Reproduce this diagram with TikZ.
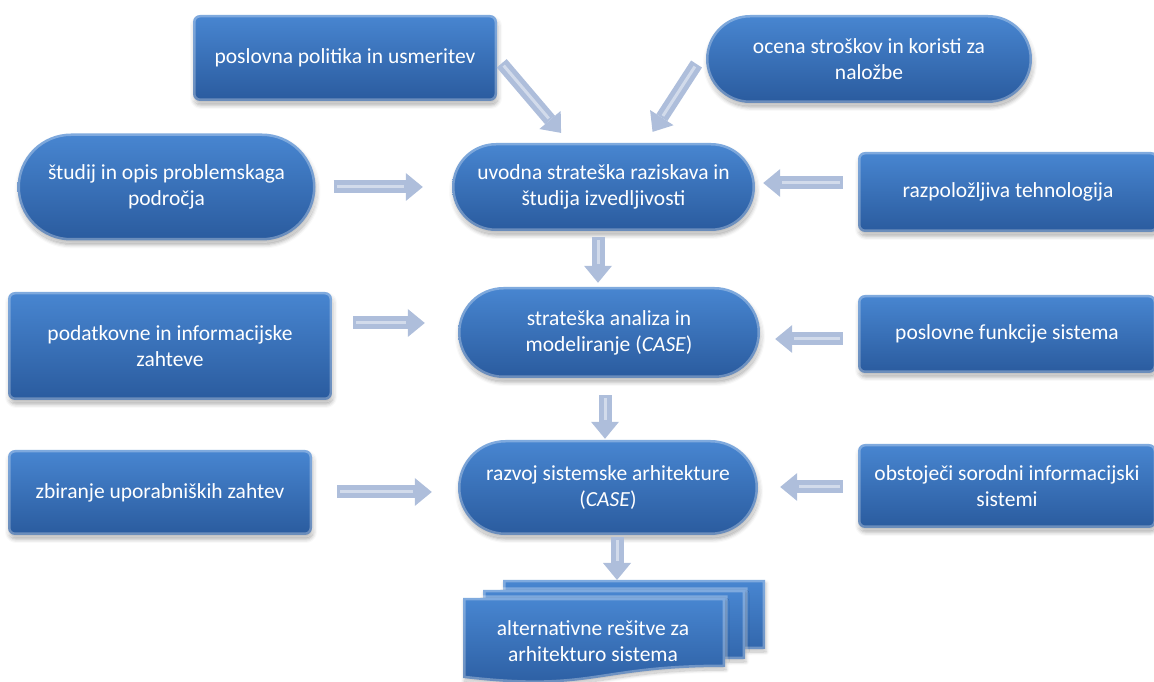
\documentclass[tikz,border=0pt]{standalone}
\usepackage{fontspec}
\setmainfont{Carlito}
\usetikzlibrary{shapes.misc,shadows.blur,arrows.meta}

\definecolor{boxtop}{HTML}{4886D1}
\definecolor{boxbot}{HTML}{2A5B9E}
\definecolor{arrowc}{HTML}{AEBEDB}

\tikzset{
  boxbase/.style={text=white, font=\fontsize{21.5}{26}\selectfont, align=center,
    inner sep=0pt, top color=boxtop, bottom color=boxbot,
    blur shadow={shadow xshift=1pt, shadow yshift=-4pt, shadow blur radius=4pt, shadow opacity=35},
    postaction={draw=white, draw opacity=.3, line width=5pt}},
  rbox/.style={boxbase, rectangle, rounded corners=7pt},
  sbox/.style={boxbase, rounded rectangle},
  docshape/.style={top color=boxtop, bottom color=boxbot,
    blur shadow={shadow xshift=1pt, shadow yshift=-3pt, shadow blur radius=3pt, shadow opacity=30},
    postaction={draw=white, draw opacity=.3, line width=5pt}},
  conn/.style 2 args={draw=arrowc, line width=13pt,
    shorten <=#1pt, shorten >=#2pt,
    -{Triangle[length=17pt,width=28pt,line width=0pt]},
    postaction={arrows=-, draw=white, draw opacity=.45, line width=3pt,
      shorten <={(#1+3)*1pt}, shorten >={(#2+19)*1pt}}},
}

\begin{document}
\begin{tikzpicture}[x=1pt,y=1pt]
\useasboundingbox (0,0) rectangle (1154,682);

% inputs around the first stage
\node[rbox, minimum width=304pt, minimum height=86pt] (pol) at (345,624) {poslovna politika in usmeritev};
\node[sbox, minimum width=326pt, minimum height=88pt] (ocena) at (869,623) {ocena stroškov in koristi za\\naložbe};
\node[sbox, minimum width=298pt, minimum height=107pt] (study) at (166.5,495) {študij in opis problemskaga\\področja};
\node[rbox, minimum width=300pt, minimum height=80pt] (tech) at (1008,490) {razpoložljiva tehnologija};

% main stages
\node[sbox, minimum width=303pt, minimum height=88pt] (uvod) at (603.5,495) {uvodna strateška raziskava in\\študija izvedljivosti};
\node[sbox, minimum width=302pt, minimum height=91pt] (strat) at (609,349.5) {strateška analiza in\\modeliranje (\textit{CASE})};
\node[sbox, minimum width=300pt, minimum height=95pt] (arch) at (608,194.5) {razvoj sistemske arhitekture\\(\textit{CASE})};

% side inputs
\node[rbox, minimum width=324pt, minimum height=108pt] (data) at (170,336) {podatkovne in informacijske\\zahteve};
\node[rbox, minimum width=298pt, minimum height=78pt] (func) at (1007,348) {poslovne funkcije sistema};
\node[rbox, minimum width=304pt, minimum height=85pt] (user) at (160,189.5) {zbiranje uporabniških zahtev};
\node[rbox, minimum width=298pt, minimum height=84pt] (exist) at (1007,196) {obstoječi sorodni informacijski\\sistemi};

% stacked documents for the result
\path[docshape] (503,102) -- (765,102) -- (765,33) .. controls (634,33) and (634,6.5) .. (503,22) -- cycle;
\path[docshape] (483,92) -- (745,92) -- (745,23) .. controls (614,23) and (614,-3.5) .. (483,12) -- cycle;
\path[docshape] (463,84) -- (725,84) -- (725,15) .. controls (594,15) and (594,-11.5) .. (463,4) -- cycle;
\node[text=white, font=\fontsize{21.5}{26}\selectfont, align=center, inner sep=0pt] (alt) at (593,41) {alternativne rešitve za\\arhitekturo sistema};
\coordinate (alttop) at (617,102);

% connectors
\draw[conn={7}{13}] (pol.east) -- ([xshift=-34pt]uvod.north);
\draw[conn={6}{13}] ([xshift=-6pt]ocena.west) -- ([xshift=42pt]uvod.north);
\draw[conn={18}{29}] (study.east) -- (uvod.west);
\draw[conn={15}{8}] ([yshift=9pt]tech.west) -- ([yshift=4pt]uvod.east);
\draw[conn={6}{4}] ([xshift=-5.5pt]uvod.south) -- ([xshift=-11pt]strat.north);
\draw[conn={21}{33}] ([yshift=23pt]data.east) -- ([yshift=9.5pt]strat.west);
\draw[conn={15}{15}] ([yshift=-5pt]func.west) -- ([yshift=-6.5pt]strat.east);
\draw[conn={17}{1}] ([xshift=-4pt]strat.south) -- ([xshift=-3pt]arch.north);
\draw[conn={25}{26}] ([yshift=0.5pt]user.east) -- ([yshift=-4.5pt]arch.west);
\draw[conn={15}{22}] ([yshift=-1pt]exist.west) -- ([yshift=0.5pt]arch.east);
\draw[conn={2}{0}] ([xshift=9pt]arch.south) -- (alttop);
\end{tikzpicture}
\end{document}
